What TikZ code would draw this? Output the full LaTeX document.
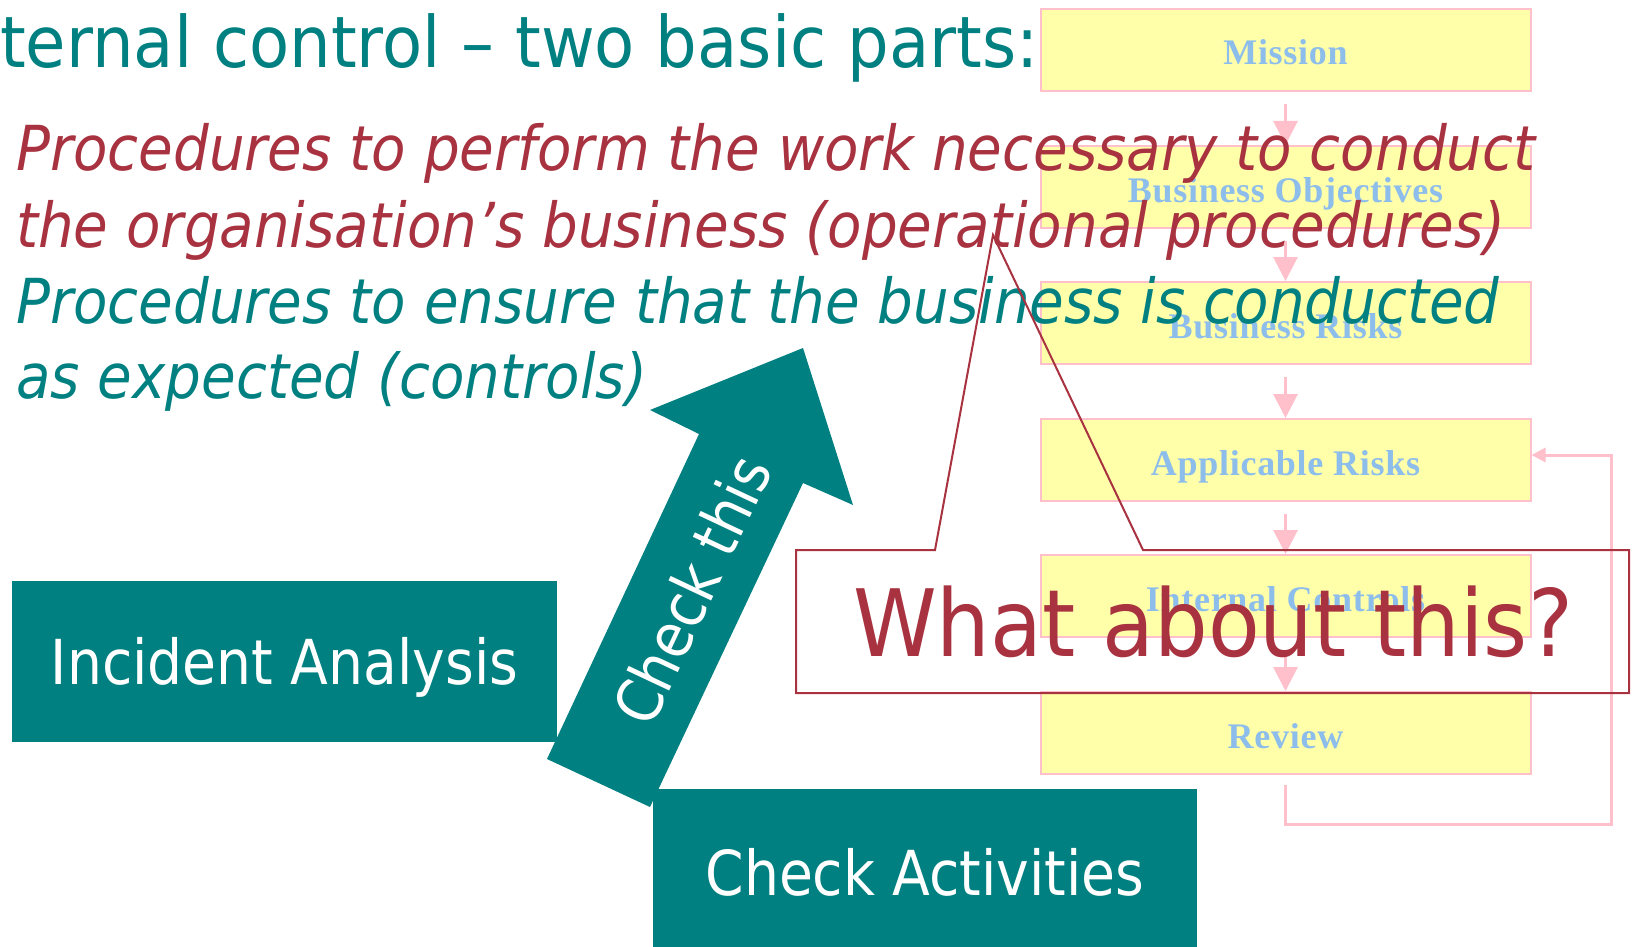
\documentclass[tikz,border=0pt]{standalone}
\usepackage{fontspec}
\usetikzlibrary{arrows.meta,calc}

\newfontfamily\titlefont[FakeStretch=0.925]{DejaVu Sans}
\newfontfamily\italfont[FakeStretch=0.908]{DejaVu Sans Oblique}
\newfontfamily\boxfont[FakeStretch=0.89]{DejaVu Sans}
\newfontfamily\callfont[FakeStretch=0.91]{DejaVu Sans}
\newfontfamily\flowfont[LetterSpace=2]{Liberation Serif Bold}

\definecolor{tealA}{HTML}{008080}
\definecolor{crim}{HTML}{A8323F}
\definecolor{flowfill}{HTML}{FFFFAA}
\definecolor{flowpink}{HTML}{FFBFCB}
\definecolor{flowtext}{HTML}{8DBDEB}

\tikzset{
  titletext/.style={anchor=base west, inner sep=0pt, text=tealA,
    font=\titlefont\fontsize{71}{71}\selectfont},
  redline/.style={anchor=base west, inner sep=0pt, text=crim,
    font=\italfont\fontsize{62}{62}\selectfont},
  tealline/.style={anchor=base west, inner sep=0pt, text=tealA,
    font=\italfont\fontsize{62}{62}\selectfont},
  flowbox/.style={draw=flowpink, line width=2pt, fill=flowfill,
    minimum width=490pt, minimum height=82pt, inner sep=0pt,
    text=flowtext, text height=30pt, text depth=0pt,
    font=\flowfont\fontsize{36}{36}\selectfont},
  flowline/.style={draw=flowpink, line width=3pt,
    -{Triangle[length=24pt,width=24pt]}},
  loopline/.style={draw=flowpink, line width=3pt,
    -{Triangle[length=14pt,width=14pt]}},
  tealbox/.style={fill=tealA, inner sep=0pt, text=white,
    text height=45pt, text depth=0pt,
    font=\boxfont\fontsize{62}{62}\selectfont},
  calloutline/.style={draw=crim, line width=2pt},
}

\begin{document}
\begin{tikzpicture}[x=1pt, y=-1pt]
\useasboundingbox[fill=white] (0,0) rectangle (1632,947);

% control cycle flowchart
\node[flowbox] (m)  at (1285.5,50)  {Mission};
\node[flowbox] (bo) at (1285.5,187) {Business Objectives};
\node[flowbox] (br) at (1285.5,323) {Business Risks};
\node[flowbox] (ar) at (1285.5,460) {Applicable Risks};
\node[flowbox] (ic) at (1285.5,596) {Internal Controls};
\node[flowbox] (rv) at (1285.5,733) {Review};

\draw[flowline] ($(m.south)+(0,12)$)  -- (bo.north);
\draw[flowline] ($(bo.south)+(0,12)$) -- (br.north);
\draw[flowline] ($(br.south)+(0,12)$) -- (ar.north);
\draw[flowline] ($(ar.south)+(0,12)$) -- (ic.north);
\draw[flowline] ($(ic.south)+(0,12)$) -- (rv.north);

% feedback from review back to applicable risks
\coordinate (loopcorner) at (1611,824);
\draw[loopline] ($(rv.south)+(0,10)$) |- (loopcorner) |- ($(ar.east)+(0,-5)$);

% heading and the two kinds of procedures
\node[titletext] (title) at (0,68) {ternal control – two basic parts:};
\node[redline]  (p1) at (16,170) {Procedures to perform the work necessary to conduct};
\node[redline]  (p2) at (16,247) {the organisation’s business (operational procedures)};
\node[tealline] (p3) at (16,323) {Procedures to ensure that the business is conducted};
\node[tealline] (p4) at (16,398) {as expected (controls)};

% big arrow from the analysis boxes
\fill[tealA] (547,759) -- (699,434) -- (650,410) -- (803,348) -- (853,505)
  -- (803,483) -- (650,807) -- cycle;
\node[tealbox, rotate=64.8] (chk) at (692,590) {Check this};

\node[tealbox, minimum width=545pt, minimum height=161pt] (ia) at (284.5,661.5) {Incident Analysis};
\node[tealbox, minimum width=544pt, minimum height=168pt] (ca) at (925,873) {Check Activities};

% callout
\draw[calloutline] (796,550) -- (935,550) -- (993,235) -- (1143,550)
  -- (1629,550) -- (1629,693) -- (796,693) -- cycle;
\node[anchor=base west, inner sep=0pt, text=crim,
  font=\callfont\fontsize{93}{93}\selectfont] (what) at (853,656) {What about this?};
\end{tikzpicture}
\end{document}
